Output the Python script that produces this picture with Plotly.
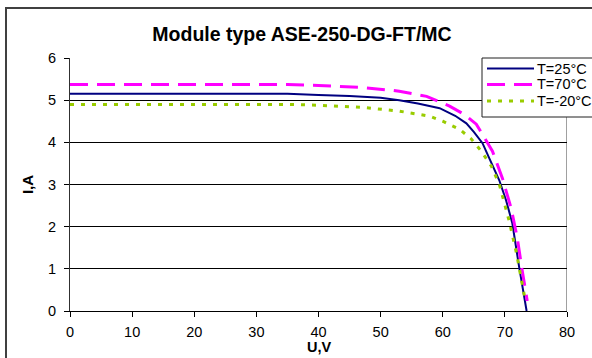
import plotly.graph_objects as go

v25 = [0, 10, 20, 30, 35, 40, 45, 50, 53, 56, 59.5, 62, 63.8, 65, 66.4, 67.5, 69.1, 70.2, 71.2, 72.3, 73.5]
i25 = [5.15, 5.15, 5.15, 5.15, 5.15, 5.12, 5.10, 5.06, 5.0, 4.92, 4.81, 4.63, 4.45, 4.25, 3.98, 3.62, 3.10, 2.62, 2.08, 1.04, 0.0]

v70 = [0, 10, 20, 30, 35, 40, 47, 52, 53, 57.4, 61.1, 63.5, 65.4, 68.0, 69.6, 71.0, 72.0, 72.8, 73.6]
i70 = [5.37, 5.37, 5.37, 5.37, 5.37, 5.35, 5.30, 5.23, 5.21, 5.09, 4.86, 4.66, 4.43, 3.79, 3.15, 2.44, 1.73, 0.95, 0.24]

vm20 = [0, 10, 20, 30, 35, 40, 47, 53, 57.9, 60.0, 62.7, 64.6, 66.2, 67.8, 69.1, 70.7, 71.9, 72.7, 73.3]
im20 = [4.90, 4.90, 4.90, 4.90, 4.90, 4.88, 4.83, 4.74, 4.62, 4.50, 4.31, 4.08, 3.79, 3.44, 3.01, 2.13, 1.35, 0.71, 0.24]

names = ["T=25°C", "T=70°C", "T=-20°C"]
colors = ["#000080", "#FF00FF", "#99CC00"]
widths = [2, 3, 3]
dashes = ["solid", "18px,9px", "4px,7px"]
xticks = [0, 10, 20, 30, 40, 50, 60, 70, 80]
yticks = [0, 1, 2, 3, 4, 5, 6]
x_title = "U,V"
y_title = "I,A"

font = "Arial, Liberation Sans, sans-serif"

# plot-area geometry in pixels (for converting the legend layout)
L, R, T, B = 70, 567, 58, 311
W, H = 592, 358


def px(x):
    return (x - L) / (R - L)


def py(y):
    return (B - y) / (B - T)


fig = go.Figure()
for v, i, n, c, w, d in zip([v25, v70, vm20], [i25, i70, im20], names, colors, widths, dashes):
    fig.add_trace(go.Scatter(x=v, y=i, mode="lines", name=n,
                             line=dict(color=c, width=w, dash=d)))

# right gray plot-area border
fig.add_shape(type="line", xref="x", yref="y", x0=80, x1=80, y0=0, y1=6,
              line=dict(color="#A0A0A0", width=2), layer="below")
# outer chart border (runs off the right and bottom edges)
fig.add_shape(type="rect", xref="paper", yref="paper",
              x0=px(6), x1=px(620), y0=py(380), y1=py(8),
              line=dict(color="#404040", width=2), layer="below")

# legend box (Excel style, overlapping the plot area and running off the edge)
fig.add_shape(type="rect", xref="paper", yref="paper",
              x0=px(482), x1=px(640), y0=py(117), y1=py(58),
              line=dict(color="#202020", width=1), fillcolor="white", layer="above")
rows = [68.5, 84.5, 101]
for n, c, w, d, yy in zip(names, colors, widths, dashes, rows):
    fig.add_shape(type="line", xref="paper", yref="paper",
                  x0=px(487), x1=px(534), y0=py(yy), y1=py(yy),
                  line=dict(color=c, width=w, dash=d), layer="above")
    fig.add_annotation(text=n, xref="paper", yref="paper", x=px(535), y=py(yy),
                       xanchor="left", yanchor="middle", showarrow=False,
                       font=dict(family=font, size=14.5, color="black"))

# x-axis title placed tight under the tick labels (as in the reference)
fig.add_annotation(text="<b>" + x_title + "</b>", xref="paper", yref="paper",
                   x=px(319), y=py(346.5), xanchor="center", yanchor="middle",
                   showarrow=False, font=dict(family=font, size=14.5, color="black"))

fig.update_layout(
    width=W, height=H,
    margin=dict(l=L, r=W - R, t=T, b=H - B, autoexpand=False),
    paper_bgcolor="white", plot_bgcolor="white",
    font=dict(family=font, size=15, color="black"),
    title=dict(text="<b>Module type ASE-250-DG-FT/MC</b>",
               x=302 / W, xref="container", xanchor="center",
               y=1 - 34 / H, yref="container", yanchor="middle",
               font=dict(family=font, size=19.5, color="black")),
    showlegend=False,
)
fig.update_xaxes(range=[0, 80], tickvals=xticks, showgrid=False,
                 showline=True, linecolor="black", linewidth=1,
                 ticks="outside", ticklen=5, tickcolor="black",
                 ticklabelstandoff=3,
                 zeroline=False,
                 tickfont=dict(family=font, size=14.5))
fig.update_yaxes(range=[0, 6], tickvals=yticks, showgrid=True,
                 gridcolor="black", gridwidth=1,
                 showline=True, linecolor="#303030", linewidth=1,
                 ticks="outside", ticklen=5, tickcolor="black",
                 ticklabelstandoff=5,
                 zeroline=False,
                 tickfont=dict(family=font, size=14.5),
                 title=dict(text="<b>" + y_title + "</b>", standoff=10,
                            font=dict(family=font, size=15)))

fig.write_html("out.html")
